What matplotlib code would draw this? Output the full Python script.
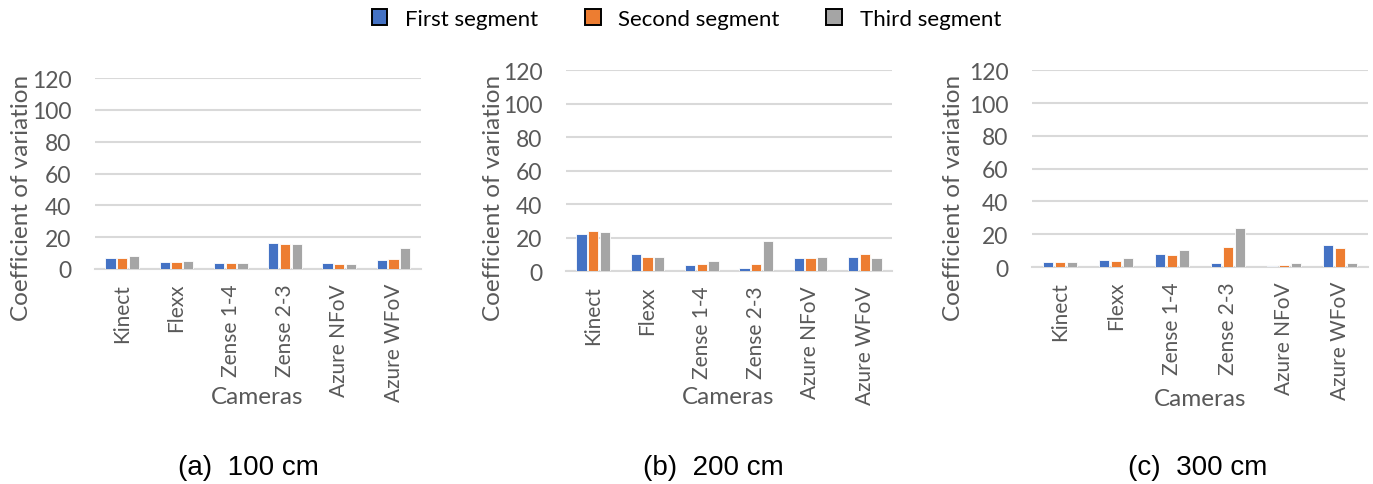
import numpy as np
import matplotlib.pyplot as plt
from matplotlib.patches import Patch

cameras = ["Kinect", "Flexx", "Zense 1-4", "Zense 2-3", "Azure NFoV", "Azure WFoV"]
segments = ["First segment", "Second segment", "Third segment"]
colors = ["#4472C4", "#ED7D31", "#A5A5A5"]

# coefficient of variation per camera, one list per segment
cv_100_first = [7.0, 4.6, 3.5, 16.5, 3.5, 5.5]
cv_100_second = [7.2, 4.3, 3.5, 16.0, 3.3, 6.5]
cv_100_third = [8.3, 4.8, 4.0, 15.6, 3.1, 13.0]

cv_200_first = [22.0, 10.1, 3.6, 2.0, 8.0, 8.3]
cv_200_second = [23.9, 8.7, 4.2, 4.6, 8.0, 10.3]
cv_200_third = [23.5, 8.7, 6.4, 18.3, 8.3, 7.8]

cv_300_first = [2.8, 4.5, 7.9, 2.4, 0.6, 13.4]
cv_300_second = [2.8, 3.4, 7.5, 12.4, 1.2, 11.6]
cv_300_third = [2.8, 5.5, 10.1, 23.9, 2.2, 2.2]

captions = ["(a)  100 cm", "(b)  200 cm", "(c)  300 cm"]

panels = [
    ([cv_100_first, cv_100_second, cv_100_third], [0.0692, 0.4433, 0.2372, 0.3938], (22, 198), (257, 398), 248),
    ([cv_200_first, cv_200_second, cv_200_third], [0.4122, 0.4385, 0.2374, 0.4151], (494, 198), (728, 398), 713),
    ([cv_300_first, cv_300_second, cv_300_third], [0.7516, 0.4474, 0.2447, 0.4056], (954, 198), (1200, 400), 1198),
]

W, H = 1373, 485
fig = plt.figure(figsize=(W / 100, H / 100), dpi=100)
txt = "#595959"
font = "Lato"

x = np.arange(len(cameras))
bw = 0.19

for (series, rect, ylab_pos, xlab_pos, cap_x), cap in zip(panels, captions):
    ax = fig.add_axes(rect)
    for i, vals in enumerate(series):
        ax.bar(x + (i - 1) * (bw + 0.025), vals, width=bw, color=colors[i],
               edgecolor="white", linewidth=0.6, zorder=3)
    ax.set_ylim(0, 120)
    ax.set_yticks(range(0, 121, 20))
    ax.set_xlim(-0.5, len(cameras) - 0.5)
    ax.set_xticks(x)
    ax.set_xticklabels(cameras, rotation=90, fontsize=15, color=txt, family=font)
    for lab in ax.get_yticklabels():
        lab.set_fontsize(16.5)
        lab.set_color(txt)
        lab.set_family(font)
    ax.tick_params(axis="y", length=0, pad=17)
    ax.tick_params(axis="x", length=0, pad=10)
    ax.grid(axis="y", color="#D9D9D9", linewidth=1.5, zorder=0)
    for s in ["top", "right", "left"]:
        ax.spines[s].set_visible(False)
    ax.spines["bottom"].set_color("#D9D9D9")
    ax.spines["bottom"].set_linewidth(1.5)

    fig.text(ylab_pos[0] / W, 1 - ylab_pos[1] / H, "Coefficient of variation",
             rotation=90, ha="center", va="center", fontsize=17.5, color=txt, family=font)
    fig.text(xlab_pos[0] / W, 1 - xlab_pos[1] / H, "Cameras",
             ha="center", va="center", fontsize=17.5, color=txt, family=font)
    fig.text(cap_x / W, 1 - 468 / H, cap, ha="center", va="center",
             fontsize=20, color="black", family="Liberation Sans")

handles = [Patch(facecolor=c, edgecolor="black", linewidth=1.4) for c in colors]
fig.legend(handles, segments, loc="center", bbox_to_anchor=(0.5, 1 - 20 / H),
           ncol=3, frameon=False, prop={"family": font, "size": 16},
           handlelength=0.7, handleheight=0.7, columnspacing=2.1, handletextpad=0.8,
           labelcolor="black")

fig.savefig("out.png", dpi=100)
